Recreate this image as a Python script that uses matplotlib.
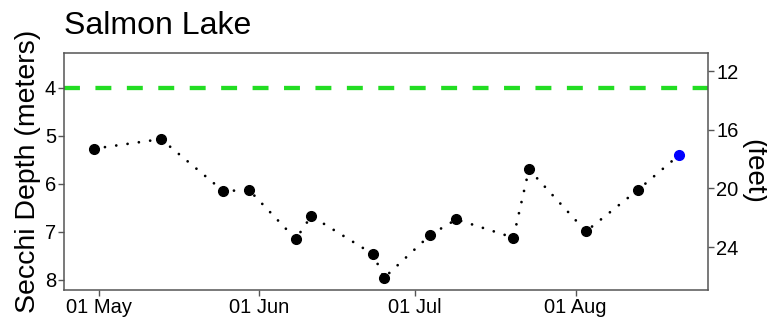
import pandas as pd
import numpy as np
import matplotlib
matplotlib.use('Agg')
import matplotlib.pyplot as plt
import matplotlib.dates as mdates

plt.rcParams['font.family'] = ['Liberation Sans', 'DejaVu Sans']

# secchi readings for the season (meters)
dates = ['2019-04-30', '2019-05-13', '2019-05-25', '2019-05-30', '2019-06-08',
         '2019-06-11', '2019-06-23', '2019-06-25', '2019-07-04', '2019-07-09',
         '2019-07-20', '2019-07-23', '2019-08-03', '2019-08-13', '2019-08-21']
depth_m = [5.27, 5.07, 6.15, 6.13, 7.15, 6.67, 7.47, 7.96, 7.06, 6.74,
           7.12, 5.70, 6.99, 6.13, 5.40]
target_m = 4.0
ft_ticks = [12, 16, 20, 24]

d = pd.to_datetime(dates)

fig = plt.figure(figsize=(7.67, 3.23), dpi=100)
ax = fig.add_axes([0.0838, 0.102, 0.8389, 0.733])

ax.axhline(target_m, color='#22dd22', lw=3.1, linestyle=(0, (3.7, 3.6)), zorder=1)
ax.plot(d, depth_m, color='black', lw=2.0, linestyle=(0, (0.01, 4.1)),
        dash_capstyle='round', zorder=2)
ax.plot(d[:-1], depth_m[:-1], 'o', color='black', markersize=7, zorder=3)
ax.plot(d[-1:], depth_m[-1:], 'o', color='#0000ff', markersize=7, zorder=3)

ax.set_ylim(8.21, 3.285)
ax.set_yticks([4, 5, 6, 7, 8])
ax.set_xlim(pd.Timestamp('2019-04-24 08:00'), pd.Timestamp('2019-08-26 12:00'))
ax.xaxis.set_major_locator(mdates.MonthLocator())
ax.xaxis.set_major_formatter(mdates.DateFormatter('%d %b'))

# feet on the right side
ax2 = ax.secondary_yaxis('right', functions=(lambda m: m / 0.3048, lambda f: f * 0.3048))
ax2.set_yticks(ft_ticks)

for a in (ax, ax2):
    a.tick_params(axis='both', labelsize=14.5, length=4, width=1, color='#555555',
                  labelcolor='black', pad=2)
for s in ax.spines.values():
    s.set_color('#555555')
    s.set_linewidth(1.1)
ax2.spines['right'].set_visible(False)

ax.set_ylabel('Secchi Depth (meters)', fontsize=20.5, labelpad=3)
ax2.set_ylabel('(feet)', fontsize=20, rotation=-90, labelpad=20)
ax.set_title('Salmon Lake', fontsize=23, loc='left', pad=14)

fig.savefig('out.png', dpi=100)
